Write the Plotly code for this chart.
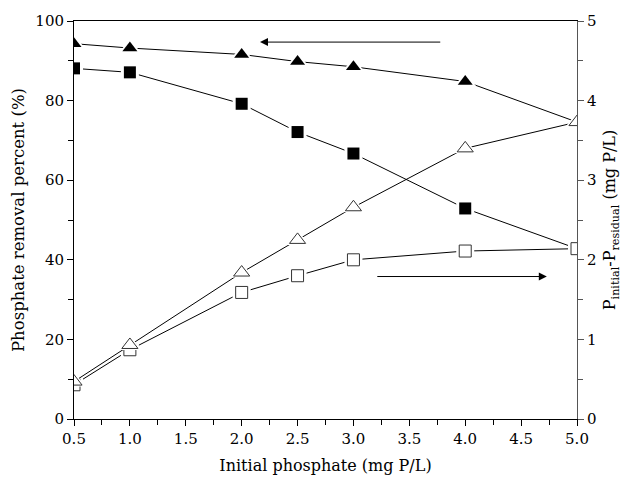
import plotly.graph_objects as go

x = [0.5, 1.0, 2.0, 2.5, 3.0, 4.0, 5.0]
removal_tri = [94.3, 93.2, 91.6, 89.8, 88.5, 84.8, 74.6]
removal_sq = [88.1, 87.1, 79.2, 72.1, 66.7, 52.9, 42.8]
diff_tri = [0.47, 0.93, 1.84, 2.25, 2.66, 3.40, 3.73]
diff_sq = [0.43, 0.87, 1.59, 1.80, 2.00, 2.11, 2.14]

FONT = "DejaVu Serif"
fig = go.Figure()

def add_series(y, symbol, size, filled, axis):
    fig.add_trace(go.Scatter(x=x, y=y, mode="lines", yaxis=axis, cliponaxis=True,
                             line=dict(color="black", width=1), showlegend=False, hoverinfo="skip"))
    fig.add_trace(go.Scatter(x=x, y=y, mode="markers", yaxis=axis, cliponaxis=True,
                             marker=dict(symbol=symbol, size=size + 6, color="white", line=dict(width=0)),
                             showlegend=False, hoverinfo="skip"))
    if filled:
        mk = dict(symbol=symbol, size=size, color="black", line=dict(color="black", width=0))
    else:
        mk = dict(symbol=symbol, size=size, color="white", line=dict(color="#333", width=1))
    fig.add_trace(go.Scatter(x=x, y=y, mode="markers", yaxis=axis, cliponaxis=True,
                             marker=mk, showlegend=False))

add_series(removal_sq, "square", 12, True, "y")
add_series(removal_tri, "triangle-up", 13, True, "y")
add_series(diff_sq, "square", 12, False, "y2")
add_series(diff_tri, "triangle-up", 14, False, "y2")

tickfont = dict(family=FONT, size=15, color="black")
titlefont = dict(family=FONT, size=16, color="black")

fig.update_layout(
    width=630, height=483,
    margin=dict(l=74, r=53, t=18, b=63),
    plot_bgcolor="white", paper_bgcolor="white",
    font=dict(family=FONT),
    xaxis=dict(range=[0.5, 5.0], tick0=0.5, dtick=0.5, tickformat=".1f",
               showline=True, linecolor="black", linewidth=1, mirror=True,
               ticks="outside", ticklen=6, tickcolor="black", showgrid=False, zeroline=False,
               minor=dict(ticks="outside", ticklen=5, dtick=0.25, tickcolor="black", showgrid=False),
               tickfont=tickfont,
               title=dict(text="Initial phosphate (mg P/L)", font=titlefont, standoff=12)),
    yaxis=dict(range=[0, 100], dtick=20, showline=True, linecolor="black", linewidth=1,
               ticks="outside", ticklen=6, tickcolor="black", showgrid=False, zeroline=False,
               minor=dict(ticks="outside", ticklen=5, dtick=10, tickcolor="black", showgrid=False),
               tickfont=tickfont,
               title=dict(text="Phosphate removal percent (%)", font=dict(family=FONT, size=16.5, color="black"), standoff=6)),
    yaxis2=dict(range=[0, 5], dtick=1, overlaying="y", side="right", anchor="x",
                showline=True, linecolor="#555", linewidth=1,
                ticks="outside", ticklen=6, tickcolor="#555", showgrid=False, zeroline=False,
                minor=dict(ticks="outside", ticklen=5, dtick=0.5, tickcolor="#555", showgrid=False),
                tickfont=tickfont,
                title=dict(text="P<sub>initial</sub>-P<sub>residual</sub> (mg P/L)", font=titlefont, standoff=8)),
)

fig.add_annotation(x=2.164, y=94.7, ax=3.79, ay=94.7, xref="x", yref="y", axref="x", ayref="y",
                   showarrow=True, arrowhead=2, arrowsize=1.6, arrowwidth=1, arrowcolor="black", text="")
fig.add_annotation(x=4.73, y=35.8, ax=3.20, ay=35.8, xref="x", yref="y", axref="x", ayref="y",
                   showarrow=True, arrowhead=2, arrowsize=1.6, arrowwidth=1, arrowcolor="black", text="")

fig.write_html("out.html")
